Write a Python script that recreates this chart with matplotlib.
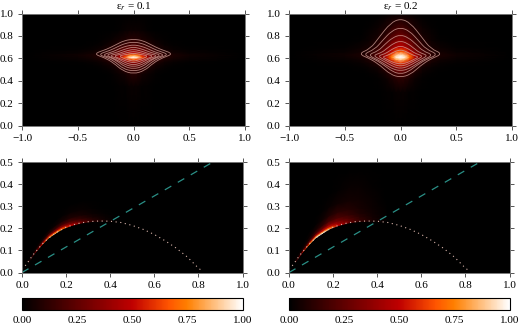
import numpy as np
import matplotlib
matplotlib.use("Agg")
import matplotlib.pyplot as plt
from matplotlib.cm import ScalarMappable
from matplotlib.colors import Normalize
from matplotlib.patches import PathPatch
from matplotlib.path import Path

plt.rcParams["font.family"] = "Liberation Serif"
plt.rcParams["mathtext.fontset"] = "stix"
plt.rcParams["font.size"] = 8

titles = ["ε$_r$ = 0.1", "ε$_r$ = 0.2"]

# top panels: intensity on a non uniform grid, right half only (mirrored later)
top_x = [0, .04, .08, .13, .2, .28, .36, .5, 1]
top_y_a = [0, .35, .46, .50, .54, .57, .59, .61, .63, .65, .68, .72, .77, .85, 1]
top_a = [
    [0, 0, 0, 0, 0, 0, 0, 0, 0],
    [.02, .02, .01, .01, 0, 0, 0, 0, 0],
    [.10, .08, .05, .03, .01, 0, 0, 0, 0],
    [.16, .14, .11, .06, .02, .01, 0, 0, 0],
    [.26, .24, .18, .11, .05, .02, .01, 0, 0],
    [.42, .38, .30, .20, .09, .04, .02, .01, 0],
    [.70, .62, .46, .30, .14, .07, .04, .02, 0],
    [1.0, .92, .66, .40, .20, .10, .06, .03, 0],
    [.80, .72, .52, .36, .20, .11, .07, .04, 0],
    [.50, .46, .38, .28, .17, .09, .05, .02, 0],
    [.32, .30, .26, .19, .11, .05, .02, .01, 0],
    [.20, .18, .15, .11, .06, .02, .01, 0, 0],
    [.10, .09, .07, .05, .02, .01, 0, 0, 0],
    [.03, .03, .02, .01, 0, 0, 0, 0, 0],
    [0, 0, 0, 0, 0, 0, 0, 0, 0],
]
top_y_b = [0, .3, .42, .47, .52, .56, .59, .61, .63, .66, .70, .76, .82, .88, .96, 1]
top_b = [
    [0, 0, 0, 0, 0, 0, 0, 0, 0],
    [.02, .02, .01, .01, 0, 0, 0, 0, 0],
    [.12, .10, .07, .03, .01, 0, 0, 0, 0],
    [.22, .19, .13, .07, .02, .01, 0, 0, 0],
    [.38, .33, .24, .14, .05, .02, .01, 0, 0],
    [.62, .56, .42, .26, .11, .05, .02, .01, 0],
    [.90, .82, .62, .38, .17, .08, .04, .02, 0],
    [1.0, .96, .74, .46, .22, .11, .06, .03, 0],
    [.96, .88, .68, .44, .23, .12, .07, .04, 0],
    [.70, .64, .50, .34, .19, .10, .05, .02, 0],
    [.50, .46, .36, .25, .13, .06, .03, .01, 0],
    [.36, .32, .26, .17, .08, .03, .01, 0, 0],
    [.25, .22, .17, .11, .05, .02, 0, 0, 0],
    [.17, .15, .11, .07, .03, .01, 0, 0, 0],
    [.07, .06, .05, .03, .01, 0, 0, 0, 0],
    [.03, .03, .02, .01, 0, 0, 0, 0, 0],
]

# contour outlines, right half from the top point round to the bottom point
outline_x = [[0, .08, .16, .24, .36, .26, .18, .10, 0],
             [0, .07, .14, .21, .32, .23, .16, .09, 0],
             [0, .06, .12, .18, .285, .20, .14, .08, 0],
             [0, .05, .11, .16, .25, .18, .13, .07, 0],
             [0, .05, .10, .14, .22, .15, .11, .06, 0],
             [0, .04, .08, .12, .18, .13, .09, .05, 0],
             [0, .03, .06, .09, .13, .09, .06, .03, 0]]
outline_y_a = [[.77, .76, .72, .68, .64, .605, .56, .49, .46],
               [.745, .735, .705, .67, .635, .605, .565, .505, .485],
               [.72, .71, .69, .66, .63, .605, .57, .525, .505],
               [.70, .69, .67, .65, .63, .60, .575, .54, .525],
               [.68, .67, .655, .64, .625, .60, .58, .555, .54],
               [.66, .655, .645, .635, .62, .60, .585, .57, .56],
               [.645, .64, .635, .63, .62, .60, .59, .58, .575]]
outline_x_b = [[0, .09, .19, .27, .38, .27, .18, .09, 0],
               [0, .08, .16, .23, .34, .23, .15, .07, 0],
               [0, .07, .14, .20, .295, .20, .13, .06, 0],
               [0, .06, .12, .17, .25, .17, .11, .05, 0],
               [0, .05, .10, .14, .205, .14, .09, .05, 0],
               [0, .04, .08, .12, .165, .12, .08, .04, 0]]
outline_y_b = [[.955, .915, .79, .685, .64, .595, .535, .455, .43],
               [.875, .845, .76, .68, .635, .59, .54, .48, .46],
               [.81, .785, .725, .665, .63, .585, .54, .50, .49],
               [.755, .735, .69, .65, .625, .585, .55, .52, .51],
               [.71, .695, .665, .64, .62, .585, .56, .54, .53],
               [.675, .665, .645, .625, .612, .59, .57, .555, .55]]

# bottom panels: intensity sits just above the arc
arc_x = [0, .01, .02, .05, .08, .1, .15, .2, .25, .3, .35, .4, .45, .5, .55, .6, .65, .7, .75, .8, .82]
arc_y = [.015, .025, .037, .08, .115, .138, .178, .205, .221, .23, .233, .232, .226, .213, .195, .172, .143, .11, .07, .02, .005]

station_x = [.03, .06, .09, .12, .15, .18, .22, .27, .32, .38, .44]
station_y = [.05, .092, .128, .158, .178, .197, .213, .226, .232, .233, .226]
offsets = [-.004, 0, .004, .01, .02, .035, .06, .1, .16, .24]
bottom_a = [
    [0, 0, 0, 0, 0, 0, 0, 0, 0, 0, 0],
    [.05, .25, .55, .80, .85, .75, .50, .25, .10, .03, 0],
    [.03, .15, .38, .60, .68, .62, .45, .25, .11, .04, 0],
    [.01, .05, .15, .28, .36, .38, .30, .18, .09, .03, 0],
    [0, .01, .03, .08, .14, .18, .18, .12, .06, .02, 0],
    [0, 0, 0, .01, .03, .06, .08, .06, .03, .01, 0],
    [0, 0, 0, 0, 0, .01, .02, .02, .01, 0, 0],
    [0, 0, 0, 0, 0, 0, 0, 0, 0, 0, 0],
    [0, 0, 0, 0, 0, 0, 0, 0, 0, 0, 0],
    [0, 0, 0, 0, 0, 0, 0, 0, 0, 0, 0],
]
bottom_b = [
    [0, 0, 0, 0, 0, 0, 0, 0, 0, 0, 0],
    [.10, .40, .75, .95, 1.0, .85, .50, .25, .12, .05, 0],
    [.05, .25, .55, .78, .82, .72, .48, .27, .14, .06, .01],
    [.02, .08, .24, .42, .52, .52, .40, .24, .13, .06, .01],
    [0, .02, .07, .16, .27, .34, .30, .20, .11, .05, .01],
    [0, 0, .02, .06, .12, .18, .20, .14, .08, .04, .01],
    [0, 0, 0, .01, .04, .08, .11, .09, .06, .03, .01],
    [0, 0, 0, 0, .01, .02, .04, .05, .04, .02, 0],
    [0, 0, 0, 0, 0, 0, .01, .02, .02, .01, 0],
    [0, 0, 0, 0, 0, 0, 0, 0, 0, 0, 0],
]

line_x = [0, .866]
line_y = [0, .5]

cbar_ticks = [0, .25, .5, .75, 1]
cbar_labels = ["0.00", "0.25", "0.50", "0.75", "1.00"]

W, H = 520, 326
CMAP = "gist_heat"


def px_axes(fig, x0, x1, y0, y1):
    return fig.add_axes([x0 / W, 1 - y1 / H, (x1 - x0) / W, (y1 - y0) / H])


def style(ax):
    ax.tick_params(direction="out", top=True, right=True, length=3, width=.7, color="#555555", pad=3)
    for s in ax.spines.values():
        s.set_color("#777777")
        s.set_linewidth(.7)


def mirror(half):
    half = np.asarray(half, dtype=float)
    return np.hstack([half[:, :0:-1], half])


def closed_curve(xo, yo):
    # quadratic curve through the midpoints, so the outline comes out smooth
    xo = np.array(xo)
    yo = np.array(yo)
    pts = np.column_stack([np.concatenate([xo, -xo[-2:0:-1]]), np.concatenate([yo, yo[-2:0:-1]])])
    mids = (pts + np.roll(pts, -1, axis=0)) / 2
    verts = [mids[-1]]
    codes = [Path.MOVETO]
    for p, m in zip(pts, mids):
        verts += [p, m]
        codes += [Path.CURVE3, Path.CURVE3]
    return Path(verts, codes)


def draw_top(ax, ys, table, xs_out, ys_out, title):
    xs = np.array(top_x, dtype=float)
    xx = np.concatenate([-xs[:0:-1], xs])
    ax.pcolormesh(xx, ys, mirror(table), cmap=CMAP, vmin=0, vmax=1, shading="gouraud")
    for xo, yo in zip(xs_out, ys_out):
        ax.add_patch(PathPatch(closed_curve(xo, yo), fill=False, ec="#d0a098", lw=.6, alpha=.8))
    ax.set_xlim(-1, 1)
    ax.set_ylim(0, 1)
    ax.set_xticks([-1, -.5, 0, .5, 1])
    ax.set_yticks([0, .2, .4, .6, .8, 1])
    ax.set_title(title, fontsize=8, pad=3)
    ax.set_facecolor("black")
    style(ax)


def draw_bottom(ax, table):
    X = np.tile(station_x, (len(offsets), 1))
    Y = np.add.outer(offsets, station_y)
    ax.set_facecolor("black")
    ax.pcolormesh(X, Y, np.array(table), cmap=CMAP, vmin=0, vmax=1, shading="gouraud")
    ax.plot(arc_x, arc_y, color="#d8b4aa", lw=.8, ls=(0, (1, 3.2)))
    ax.plot(line_x, line_y, color="#2a8f86", lw=.9, ls=(0, (6, 6)))
    ax.set_xlim(0, 1)
    ax.set_ylim(0, .5)
    ax.set_xticks([0, .2, .4, .6, .8, 1])
    ax.set_yticks([0, .1, .2, .3, .4, .5])
    style(ax)


fig = plt.figure(figsize=(W / 100, H / 100), dpi=100)
top_cols = [(22, 245), (289, 512)]
low_cols = [(22, 242.5), (289, 509.5)]

draw_top(px_axes(fig, *top_cols[0], 13.5, 125.5), top_y_a, top_a, outline_x, outline_y_a, titles[0])
draw_top(px_axes(fig, *top_cols[1], 13.5, 125.5), top_y_b, top_b, outline_x_b, outline_y_b, titles[1])
draw_bottom(px_axes(fig, *low_cols[0], 162, 272.5), bottom_a)
draw_bottom(px_axes(fig, *low_cols[1], 162, 272.5), bottom_b)

for col in low_cols:
    cax = px_axes(fig, *col, 298, 309.5)
    sm = ScalarMappable(norm=Normalize(0, 1), cmap=CMAP)
    cb = fig.colorbar(sm, cax=cax, orientation="horizontal", ticks=cbar_ticks)
    cb.ax.set_xticklabels(cbar_labels)
    cb.ax.tick_params(length=0, pad=4.5)
    cb.outline.set_linewidth(.8)

fig.savefig("out.png", dpi=100)
